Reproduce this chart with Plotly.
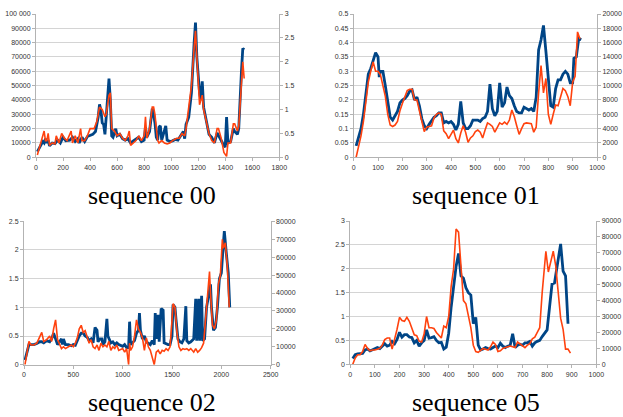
import plotly.graph_objects as go

# ---------------- data ----------------
# sequence 00
s00_blue_x = [10,30,50,60,70,80,90,100,120,140,160,180,200,220,250,270,290,310,320,340,360,380,400,420,440,460,470,480,490,500,510,520,540,550,560,570,590,600,620,640,660,680,700,720,740,760,780,800,810,820,840,860,870,880,890,900,910,920,930,950,960,970,990,1010,1030,1050,1070,1090,1100,1110,1130,1150,1170,1180,1190,1210,1220,1230,1240,1260,1280,1300,1320,1340,1360,1380,1400,1410,1420,1440,1460,1470,1490,1500,1520,1530,1540]
s00_blue_y = [4000,8000,11000,10000,13000,10000,12000,8000,10000,9500,12000,10000,14000,11500,12000,14000,11000,13000,10000,14000,11000,14500,15000,16000,18000,28000,37000,33000,24000,23000,16000,30000,55000,40000,15000,14000,20000,15000,16000,13000,12000,13000,10000,11500,12500,14000,11000,12000,21000,14000,18000,34000,30000,24000,14000,12000,21000,22000,12000,19000,22000,12000,11000,11500,12500,12000,15000,18000,13000,23000,28000,45000,80000,94000,70000,45000,40000,53000,35000,25000,16000,14000,10000,17000,13000,10000,7000,28000,10000,11000,20000,18000,16000,20000,60000,76000,75000]
s00_orange_x = [10,20,40,60,70,80,90,100,120,140,150,170,190,210,230,250,260,270,290,310,330,340,360,380,400,430,450,470,490,510,520,540,550,560,580,600,620,640,660,680,690,700,720,740,760,780,800,810,820,840,860,870,880,900,910,930,950,970,990,1010,1040,1060,1080,1100,1110,1130,1150,1170,1180,1190,1200,1210,1230,1240,1260,1280,1300,1320,1340,1350,1370,1390,1410,1420,1440,1460,1470,1490,1500,1520,1530,1540]
s00_orange_y = [0.05,0.15,0.3,0.55,0.35,0.35,0.5,0.25,0.3,0.28,0.45,0.3,0.5,0.4,0.35,0.5,0.55,0.3,0.45,0.3,0.6,0.35,0.35,0.45,0.6,0.6,0.75,1.05,1.0,0.85,0.9,1.3,1.35,0.6,0.55,0.45,0.5,0.4,0.35,0.45,0.55,0.25,0.3,0.35,0.45,0.35,0.45,0.85,0.4,0.6,1.05,1.05,0.9,0.35,0.3,0.35,0.3,0.28,0.3,0.35,0.4,0.4,0.5,0.45,0.6,1.1,1.5,2.3,2.65,2.1,1.6,1.1,1.3,1.0,0.75,0.5,0.35,0.3,0.6,0.6,0.4,0.1,0.02,0.3,0.3,0.7,0.7,0.55,0.65,1.7,2.0,1.65]

# sequence 01
s01_blue_x = [10,20,30,40,50,60,70,80,90,100,105,110,120,130,140,150,160,170,180,190,200,210,220,230,240,250,260,270,280,290,300,310,320,330,340,350,360,370,380,390,400,410,420,430,440,450,460,470,480,490,500,510,520,530,540,550,560,570,580,590,600,610,620,630,640,650,660,670,680,690,700,710,720,730,740,750,760,770,780,790,800,810,820,830,840,850,860,870,880,890,900,905,915,925,935]
s01_blue_y = [0.04,0.07,0.1,0.15,0.23,0.29,0.31,0.335,0.365,0.35,0.28,0.3,0.3,0.25,0.19,0.14,0.13,0.145,0.16,0.19,0.2,0.205,0.215,0.23,0.235,0.2,0.21,0.18,0.135,0.11,0.1,0.115,0.13,0.14,0.145,0.155,0.155,0.12,0.125,0.12,0.125,0.115,0.095,0.115,0.195,0.12,0.1,0.1,0.11,0.13,0.13,0.13,0.125,0.135,0.14,0.16,0.255,0.17,0.145,0.16,0.26,0.175,0.19,0.245,0.215,0.205,0.18,0.16,0.155,0.155,0.175,0.17,0.165,0.17,0.16,0.21,0.375,0.41,0.46,0.37,0.27,0.18,0.175,0.24,0.27,0.27,0.29,0.3,0.29,0.26,0.26,0.345,0.35,0.415,0.41]
s01_orange_x = [10,20,30,40,50,60,70,80,90,100,110,120,130,140,150,160,170,180,190,200,210,220,230,240,250,260,270,280,290,300,310,320,330,340,350,360,370,380,390,400,410,420,430,440,450,460,470,480,490,500,510,520,530,540,550,560,570,580,590,600,610,620,630,640,650,660,670,680,690,700,710,720,730,740,750,760,770,780,790,800,810,820,830,840,850,860,870,880,890,900,910,920,930]
s01_orange_y = [0,1500,3000,5000,8000,10500,12000,13300,12000,12000,11500,10000,8500,6000,4500,4300,4500,5000,6500,7500,8500,9300,9500,9500,8000,8000,6500,5000,3600,4200,4300,4400,5500,6000,6200,6000,3700,3300,2600,3200,3800,2600,2000,3400,4400,3500,2100,2700,3000,3600,3800,3500,2700,3800,4800,4600,4300,3500,4100,4800,4600,4900,4600,5200,6600,5700,4400,3200,4000,4700,4800,4800,4700,3500,4200,9000,12800,9000,11000,6000,4600,6000,7300,7200,8500,9600,9300,8500,7200,10500,11300,17500,16500]

# sequence 02
s02_blue_x = [10,30,50,70,100,130,160,180,200,230,260,280,300,320,340,360,380,390,400,420,450,480,500,520,540,560,580,600,620,640,660,680,700,720,740,750,770,790,800,820,840,850,880,900,920,940,960,1000,1020,1040,1060,1070,1080,1100,1120,1140,1160,1170,1180,1200,1220,1240,1260,1280,1300,1320,1330,1340,1360,1370,1390,1410,1420,1440,1460,1480,1500,1510,1530,1540,1560,1580,1600,1620,1640,1650,1670,1690,1720,1740,1750,1770,1780,1800,1810,1830,1850,1870,1890,1900,1920,1940,1960,1980,2000,2020,2030,2050,2070,2085]
s02_blue_y = [0.08,0.2,0.35,0.35,0.35,0.37,0.4,0.4,0.38,0.42,0.4,0.45,0.55,0.45,0.35,0.4,0.45,0.35,0.45,0.35,0.35,0.33,0.35,0.34,0.43,0.5,0.55,0.55,0.5,0.48,0.42,0.45,0.38,0.65,0.6,0.4,0.45,0.45,0.35,0.4,0.8,0.5,0.38,0.4,0.35,0.38,0.35,0.32,0.35,0.3,0.3,0.75,0.35,0.38,0.42,0.55,0.6,0.9,0.6,0.45,0.5,0.4,0.38,0.35,0.42,0.35,0.9,0.45,0.87,0.4,0.98,0.95,0.38,0.36,0.35,0.35,0.5,1.05,1.0,0.8,0.45,0.4,0.38,0.45,1.02,0.42,0.38,0.4,0.45,1.15,0.42,1.15,0.42,1.2,0.42,0.45,1.0,1.2,1.4,1.0,0.6,0.65,1.0,1.5,1.6,2.1,2.33,1.95,1.6,1.0]
s02_orange_x = [10,30,50,70,100,130,160,180,200,230,260,280,300,320,340,360,380,400,420,450,480,500,520,540,560,580,600,620,640,660,680,700,720,740,760,780,800,820,840,860,880,900,920,940,960,1000,1020,1040,1060,1070,1080,1100,1120,1140,1160,1180,1200,1220,1240,1260,1280,1300,1320,1340,1360,1380,1400,1420,1440,1460,1480,1500,1510,1530,1550,1570,1590,1610,1630,1650,1670,1690,1720,1740,1760,1780,1800,1820,1840,1860,1880,1890,1910,1930,1950,1970,1990,2010,2020,2040,2060,2080]
s02_orange_y = [0,7000,13000,11000,11000,12000,16000,18000,13000,14000,16000,13000,20000,25000,14000,11000,9000,10000,9000,10000,11000,10000,12000,15000,20000,22000,18000,19000,15000,12000,14000,10000,9000,11000,8000,12000,10000,11000,10000,13000,8000,10000,9000,11000,8000,9000,7000,9000,0,12000,8000,10000,16000,25000,20000,18000,15000,8000,15000,10000,8000,4000,0,7000,8000,6000,8000,7500,9000,8000,10000,25000,34000,32000,18000,10000,8000,9000,8500,9000,8000,9000,7000,9000,7000,8000,9500,12000,25000,40000,52000,40000,22000,20000,25000,45000,50000,70000,65000,68000,55000,32000]

# sequence 05
s05_blue_x = [10,20,30,40,50,60,70,80,90,100,110,120,130,140,150,160,170,180,190,200,210,220,230,240,250,260,270,280,290,300,310,320,330,340,350,360,370,380,390,400,410,420,430,440,450,460,470,480,490,500,510,520,530,540,550,560,570,580,590,600,610,620,630,640,650,660,670,680,690,700,710,720,730,740,750,760,770,780,790,800,810,820,830,840,855,865,875,885]
s05_blue_y = [0.12,0.2,0.22,0.22,0.23,0.3,0.32,0.28,0.3,0.32,0.35,0.33,0.38,0.43,0.38,0.4,0.48,0.43,0.52,0.67,0.57,0.62,0.62,0.57,0.56,0.45,0.5,0.38,0.45,0.5,0.72,0.55,0.56,0.58,0.5,0.45,0.46,0.32,0.36,0.65,1.2,1.6,2.05,2.32,1.85,1.8,1.6,1.5,1.45,0.85,0.98,0.4,0.3,0.32,0.35,0.33,0.32,0.35,0.38,0.35,0.44,0.38,0.35,0.38,0.4,0.64,0.35,0.4,0.42,0.4,0.45,0.45,0.48,0.38,0.45,0.48,0.5,0.58,0.65,0.72,1.2,1.68,1.7,2.0,2.52,1.95,1.85,0.85]
s05_orange_x = [10,20,30,40,50,60,70,80,90,100,110,120,130,140,150,160,170,180,190,200,210,220,230,240,250,260,270,280,290,300,310,320,330,340,350,360,370,380,390,400,410,420,430,440,450,460,470,480,490,500,510,520,530,540,550,560,570,580,590,600,610,620,630,640,650,660,670,680,690,700,710,720,730,740,750,760,770,780,795,805,815,825,835,845,855,865,875,885,895]
s05_orange_y = [0,4000,6000,6000,8000,12500,10000,8500,9000,9000,9500,10000,12000,15500,16500,16500,9500,15000,22000,29500,27500,27000,29500,27000,22000,18500,18000,14500,14000,19000,30000,23000,23000,22500,20000,18000,16500,24000,23000,30000,49000,60000,85000,83000,60000,40000,38000,30000,23000,12000,8000,7500,9000,10000,9500,9000,11000,14000,12500,8000,8500,10000,10500,11000,11500,11000,10500,14000,13000,11500,10500,12000,13000,16000,17000,20000,23000,45000,71000,58000,65000,71000,62000,45000,29000,22000,9500,9500,7000]

# tick labels
x00_ticks = [0,200,400,600,800,1000,1200,1400,1600,1800]
yl00_ticks = [0,10000,20000,30000,40000,50000,60000,70000,80000,90000,100000]
yl00_text = ["0","10000","20000","30000","40000","50000","60000","70000","80000","90000","100 000"]
yr00_ticks = [0,0.5,1,1.5,2,2.5,3]
yr00_text = ["0","0.5","1","1.5","2","2.5","3"]

x01_ticks = [0,100,200,300,400,500,600,700,800,900,1000]
yl01_ticks = [0,0.05,0.1,0.15,0.2,0.25,0.3,0.35,0.4,0.45,0.5]
yl01_text = ["0","0.05","0.1","0.15","0.2","0.25","0.3","0.35","0.4","0.45","0.5"]
yr01_ticks = [0,2000,4000,6000,8000,10000,12000,14000,16000,18000,20000]
yr01_text = [str(v) for v in yr01_ticks]

x02_ticks = [0,500,1000,1500,2000,2500]
yl02_ticks = [0,0.5,1,1.5,2,2.5]
yl02_text = ["0","0.5","1","1.5","2","2.5"]
yr02_ticks = [0,10000,20000,30000,40000,50000,60000,70000,80000]
yr02_text = [str(v) for v in yr02_ticks]

x05_ticks = [0,100,200,300,400,500,600,700,800,900,1000]
yl05_ticks = [0,0.5,1,1.5,2,2.5,3]
yl05_text = ["0","0.5","1","1.5","2","2.5","3"]
yr05_ticks = [0,10000,20000,30000,40000,50000,60000,70000,80000,90000]
yr05_text = [str(v) for v in yr05_ticks]

titles = ["sequence 00", "sequence 01", "sequence 02", "sequence 05"]

# ---------------- figure ----------------
W, H = 623, 417
BLUE = "#004586"
ORANGE = "#ff420e"
GRID = "#d4d4d4"
AXC = "#b3b3b3"
TICKF = dict(family="Liberation Sans, Arial, sans-serif", size=7, color="#333333")

panels = [
    ((36, 279.3), (14, 157.3), (s00_blue_x, s00_blue_y, s00_orange_x, s00_orange_y),
     (x00_ticks, yl00_ticks, yl00_text, yr00_ticks, yr00_text)),
    ((353.7, 597), (14, 157.3), (s01_blue_x, s01_blue_y, s01_orange_x, s01_orange_y),
     (x01_ticks, yl01_ticks, yl01_text, yr01_ticks, yr01_text)),
    ((24, 270.7), (221.3, 364.7), (s02_blue_x, s02_blue_y, s02_orange_x, s02_orange_y),
     (x02_ticks, yl02_ticks, yl02_text, yr02_ticks, yr02_text)),
    ((350.3, 596.3), (221, 364.3), (s05_blue_x, s05_blue_y, s05_orange_x, s05_orange_y),
     (x05_ticks, yl05_ticks, yl05_text, yr05_ticks, yr05_text)),
]
title_pos = [(152, 196), (476, 196), (152, 402), (476, 402)]

fig = go.Figure()
layout = dict(
    width=W, height=H, margin=dict(l=0, r=0, t=0, b=0, autoexpand=False),
    paper_bgcolor="white", plot_bgcolor="white", showlegend=False,
)
annotations = []
for i, (xr, yr, d, t) in enumerate(panels):
    xi = 2 * i + 1
    yl = 2 * i + 1
    yrn = 2 * i + 2
    xname = "xaxis" if xi == 1 else f"xaxis{xi}"
    ylname = "yaxis" if yl == 1 else f"yaxis{yl}"
    yrname = f"yaxis{yrn}"
    xref = "x" if xi == 1 else f"x{xi}"
    ylref = "y" if yl == 1 else f"y{yl}"
    yrref = f"y{yrn}"
    xdom = [xr[0] / W, xr[1] / W]
    ydom = [1 - yr[1] / H, 1 - yr[0] / H]
    xt, ylt, ylx, yrt, yrx = t
    layout[xname] = dict(
        domain=xdom, anchor=ylref, range=[xt[0], xt[-1]], automargin=False,
        tickvals=xt, ticktext=[str(v) for v in xt], tickfont=TICKF,
        showgrid=False, zeroline=False, showline=True, linecolor=AXC, linewidth=1,
        ticks="outside", ticklen=3, tickcolor=AXC,
    )
    layout[ylname] = dict(
        domain=ydom, anchor=xref, range=[ylt[0], ylt[-1]], automargin=False,
        tickvals=ylt, ticktext=ylx, tickfont=TICKF,
        showgrid=True, gridcolor=GRID, gridwidth=1, zeroline=False,
        showline=True, linecolor=AXC, linewidth=1,
        ticks="outside", ticklen=3, tickcolor=AXC,
    )
    layout[yrname] = dict(
        overlaying=ylref, side="right", anchor=xref, range=[yrt[0], yrt[-1]],
        automargin=False,
        tickvals=yrt, ticktext=yrx, tickfont=TICKF,
        showgrid=False, zeroline=False,
        showline=True, linecolor=AXC, linewidth=1,
        ticks="outside", ticklen=3, tickcolor=AXC,
    )
    bx, by, ox, oy = d
    fig.add_trace(go.Scatter(x=bx, y=by, mode="lines", xaxis=xref, yaxis=ylref,
                             line=dict(color=BLUE, width=2.8), hoverinfo="skip"))
    fig.add_trace(go.Scatter(x=ox, y=oy, mode="lines", xaxis=xref, yaxis=yrref,
                             line=dict(color=ORANGE, width=1.6), hoverinfo="skip"))
    tx, ty = title_pos[i]
    annotations.append(dict(
        text=titles[i], x=tx / W, y=1 - ty / H, xref="paper", yref="paper",
        xanchor="center", yanchor="middle", showarrow=False,
        font=dict(family="Liberation Serif, Times New Roman, serif", size=26, color="black"),
    ))
layout["annotations"] = annotations
fig.update_layout(**layout)
fig.write_html(
    "out.html",
    config={"displayModeBar": False},
    post_script="document.body.style.margin='0';document.body.style.overflow='hidden';",
)
